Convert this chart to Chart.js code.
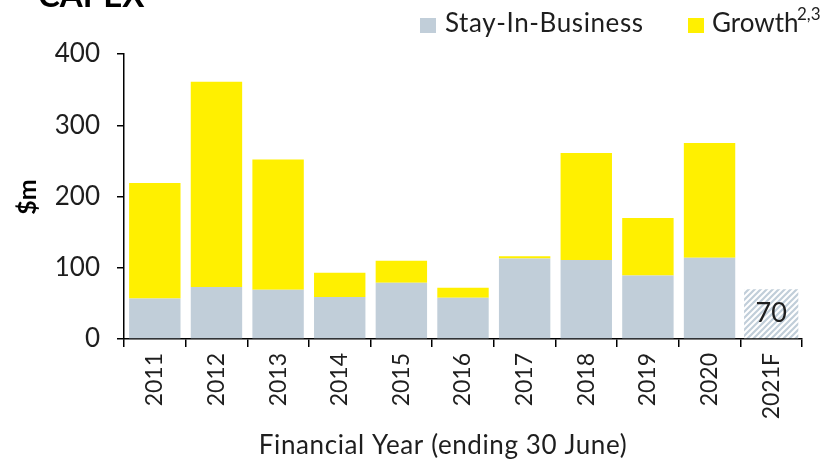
<!DOCTYPE html>
<html>
<head>
<meta charset="utf-8">
<script src="https://cdn.jsdelivr.net/npm/chart.js@4"></script>
<style>
  html, body { margin: 0; padding: 0; background: #fff; }
  #wrap { width: 826px; height: 461px; position: relative; }
</style>
</head>
<body>
<div id="wrap"><canvas id="c"></canvas></div>
<script>
const categories = ['2011', '2012', '2013', '2014', '2015', '2016', '2017', '2018', '2019', '2020', '2021F'];
const stayInBusiness = [57, 73, 69, 59, 79, 58, 113, 111, 89, 114, null];
const growth = [162, 288, 183, 34, 31, 14, 3, 150, 81, 161, null];
const forecast = [null, null, null, null, null, null, null, null, null, null, 70];
const yTicks = [0, 100, 200, 300, 400];
const seriesNames = ['Stay-In-Business', 'Growth'];
const growthNote = '2,3';

const SIB_COLOR = '#c1ced9';
const GROWTH_COLOR = '#fff000';
const TEXT = '#1e1e1e';
const FONT = 'Lato, "Open Sans", sans-serif';

function makeHatch() {
  const s = 6;
  const p = document.createElement('canvas');
  p.width = s; p.height = s;
  const g = p.getContext('2d');
  g.fillStyle = '#ffffff';
  g.fillRect(0, 0, s, s);
  g.strokeStyle = SIB_COLOR;
  g.lineWidth = 2.2;
  g.beginPath();
  g.moveTo(0, s); g.lineTo(s, 0);
  g.moveTo(-1, 1); g.lineTo(1, -1);
  g.moveTo(s - 1, s + 1); g.lineTo(s + 1, s - 1);
  g.stroke();
  return p;
}
const hatch = document.getElementById('c').getContext('2d').createPattern(makeHatch(), 'repeat');

const overlay = {
  id: 'overlay',
  afterDraw(chart) {
    const ctx = chart.ctx;
    ctx.save();
    ctx.fillStyle = '#000';
    // Title (cut off at top, as in the reference)
    ctx.font = 'bold 33px ' + FONT;
    ctx.textAlign = 'left';
    ctx.textBaseline = 'alphabetic';
    ctx.fillText('CAPEX', 38, 7);

    // Legend
    ctx.fillStyle = SIB_COLOR;
    ctx.fillRect(420, 18, 16, 15);
    ctx.fillStyle = TEXT;
    ctx.font = '400 26px ' + FONT;
    ctx.letterSpacing = '0.6px';
    ctx.fillText(seriesNames[0], 445, 32);
    ctx.fillStyle = GROWTH_COLOR;
    ctx.fillRect(688, 18, 16, 15);
    ctx.fillStyle = TEXT;
    ctx.letterSpacing = '0px';
    ctx.fillText(seriesNames[1], 712, 32);
    ctx.font = '400 17px ' + FONT;
    ctx.fillText(growthNote, 797, 20);

    // Y axis title
    ctx.save();
    ctx.translate(28, 197);
    ctx.rotate(-Math.PI / 2);
    ctx.font = 'bold 25px ' + FONT;
    ctx.fillStyle = '#000';
    ctx.textAlign = 'center';
    ctx.textBaseline = 'middle';
    ctx.fillText('$m', 0, 0);
    ctx.restore();

    // X axis title
    ctx.font = '400 26px ' + FONT;
    ctx.letterSpacing = '0.6px';
    ctx.fillStyle = TEXT;
    ctx.textAlign = 'center';
    ctx.textBaseline = 'alphabetic';
    ctx.fillText('Financial Year (ending 30 June)', 443, 454);
    ctx.letterSpacing = '0px';

    // Forecast value label
    const meta = chart.getDatasetMeta(2);
    meta.data.forEach((el, i) => {
      if (forecast[i] == null) return;
      ctx.font = '400 27px ' + FONT;
      ctx.fillStyle = TEXT;
      ctx.textAlign = 'center';
      ctx.textBaseline = 'middle';
      ctx.fillText(String(forecast[i]), el.x, (el.y + el.base) / 2);
    });
    ctx.restore();
  }
};

new Chart(document.getElementById('c'), {
  type: 'bar',
  data: {
    labels: categories,
    datasets: [
      { label: seriesNames[0], data: stayInBusiness, backgroundColor: SIB_COLOR, stack: 's' },
      { label: seriesNames[1], data: growth, backgroundColor: GROWTH_COLOR, stack: 's' },
      { label: 'Forecast', data: forecast, backgroundColor: hatch, stack: 's', categoryPercentage: 0.88 }
    ]
  },
  options: {
    responsive: true,
    maintainAspectRatio: false,
    animation: false,
    categoryPercentage: 0.834,
    barPercentage: 1,
    layout: { padding: { top: 54, right: 24, left: 0, bottom: 0 } },
    plugins: { legend: { display: false }, tooltip: { enabled: false }, title: { display: false } },
    scales: {
      x: {
        stacked: true,
        afterFit(scale) { scale.height = 122; },
        border: { display: true, color: '#000', width: 1.5 },
        grid: { drawOnChartArea: false, drawTicks: true, tickLength: 8, color: '#000', lineWidth: 1.5, offset: true },
        ticks: {
          autoSkip: false, minRotation: 90, maxRotation: 90, padding: 6,
          color: TEXT, font: { family: FONT, size: 23, weight: '400' }
        }
      },
      y: {
        stacked: true,
        min: 0, max: 400,
        afterFit(scale) { scale.width = 124; },
        afterBuildTicks(scale) { scale.ticks = yTicks.map(v => ({ value: v })); },
        border: { display: true, color: '#000', width: 1.5 },
        grid: { drawOnChartArea: false, drawTicks: true, tickLength: 7, color: '#000', lineWidth: 1.5 },
        ticks: {
          padding: 17,
          color: TEXT, font: { family: FONT, size: 26, weight: '400' }
        }
      }
    }
  },
  plugins: [overlay]
});
</script>
</body>
</html>
